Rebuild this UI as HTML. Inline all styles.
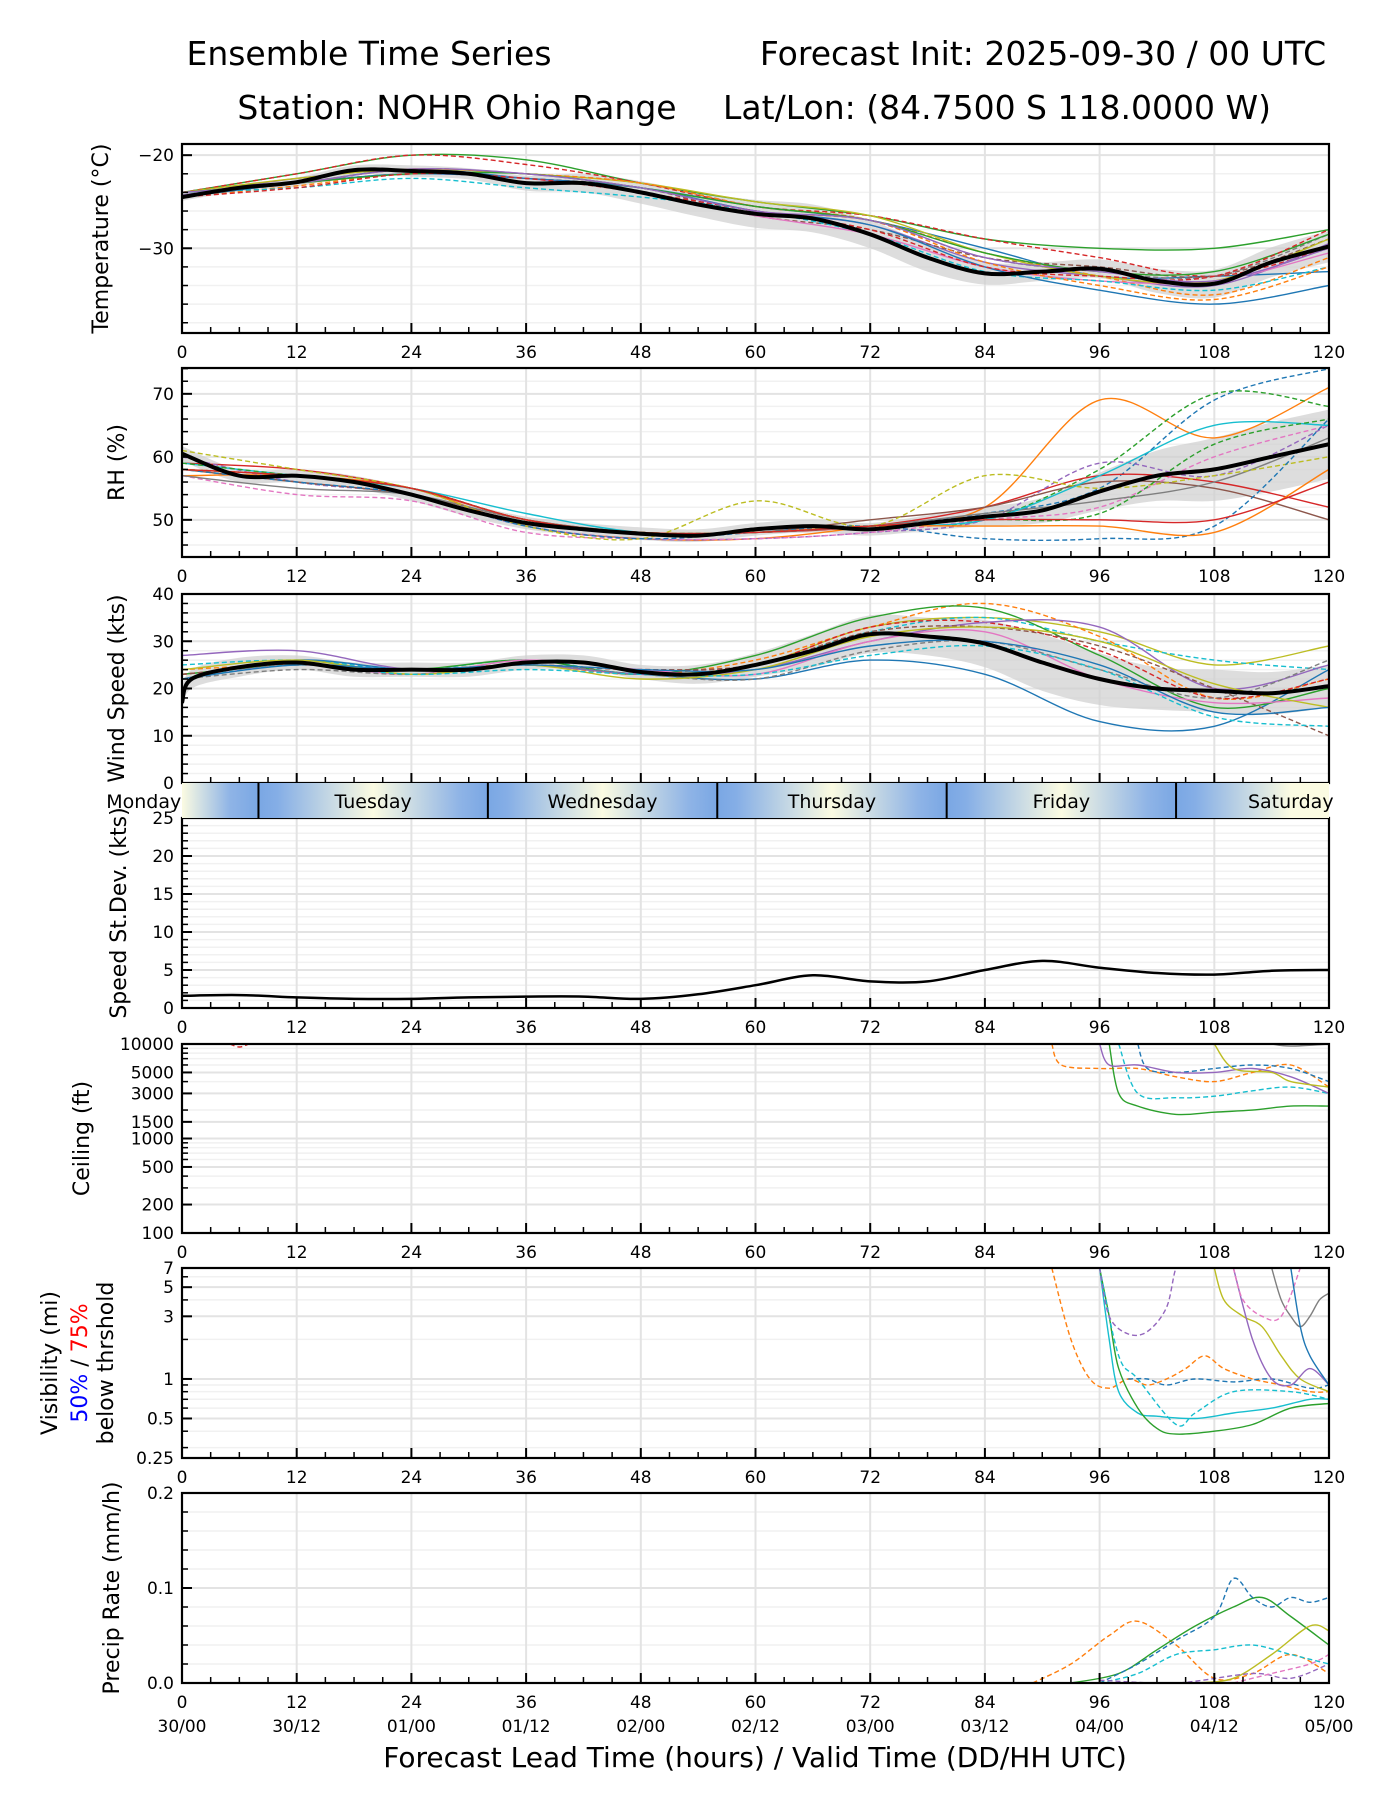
<!DOCTYPE html>
<html><head><meta charset="utf-8">
<style>
body{margin:0;background:#fff;}
svg{display:block;font-family:"DejaVu Sans","Liberation Sans",sans-serif;}
</style></head>
<body>
<svg id="chart" width="1400" height="1800" viewBox="0 0 1400 1800" xmlns="http://www.w3.org/2000/svg">
<rect width="1400" height="1800" fill="#fff"/>
<defs>
<linearGradient id="dayGrad" gradientUnits="userSpaceOnUse" x1="182" x2="1329" y1="0" y2="0"></linearGradient>
</defs>
<text x="369" y="65" font-size="33" text-anchor="middle">Ensemble Time Series</text>
<text x="1043" y="65" font-size="33" text-anchor="middle">Forecast Init: 2025-09-30 / 00 UTC</text>
<text x="457" y="119" font-size="33" text-anchor="middle">Station: NOHR Ohio Range</text>
<text x="997" y="119" font-size="33" text-anchor="middle">Lat/Lon: (84.7500 S 118.0000 W)</text>
<text x="755" y="1767" font-size="28" text-anchor="middle">Forecast Lead Time (hours) / Valid Time (DD/HH UTC)</text>
<g id="layer"></g>
</svg>
<script>
// ---------------- DATA ----------------
const hoursMean = [0,6,12,18,24,30,36,42,48,54,60,66,72,78,84,90,96,102,108,114,120];
const hours12 = [0,12,24,36,48,60,72,84,96,108,120];
const tempMean = [-24.5,-23.5,-22.9,-21.6,-21.7,-22.0,-23.0,-23.0,-24.0,-25.3,-26.3,-26.8,-28.5,-31.0,-32.7,-32.5,-32.2,-33.5,-33.8,-31.5,-29.8];
const tempSpread = [0.4,0.4,0.5,0.5,0.6,0.6,0.8,1.0,1.2,1.3,1.5,1.5,1.5,1.5,1.2,1.0,1.0,1.3,1.5,1.6,1.7];
const tempMembers = [
 [-24,-23,-21.5,-22.5,-23.5,-25.5,-27,-30,-33,-33,-32.5],
 [-24.5,-23.3,-22,-22.5,-23.5,-26,-27,-30.5,-33,-35,-31],
 [-24,-22,-20,-20.5,-23,-25,-26.5,-29,-30,-30,-28],
 [-24,-22,-20,-21,-23,-25.5,-26.5,-29,-31,-33,-30],
 [-24.3,-22.5,-21.5,-22,-23.5,-26,-27.5,-31.5,-33,-34,-29.5],
 [-24.5,-23,-22,-22.5,-23.5,-26.5,-28,-31,-32,-33,-29],
 [-24,-23,-22,-22.5,-24,-26.5,-28.5,-32,-33.5,-33.5,-30.5],
 [-24.5,-23,-21.5,-22,-23,-25.5,-27,-31,-32.5,-33,-28.5],
 [-24,-22.5,-21.5,-22,-23,-25,-26.5,-30.5,-33,-33.5,-29],
 [-24,-23.5,-22.5,-23.5,-24.5,-26,-28.5,-32.5,-33.5,-34.5,-32],
 [-24.5,-23,-22,-22.5,-23.5,-26,-27.5,-32,-34.5,-36,-34],
 [-24,-23,-21.5,-22,-23,-25.5,-27,-31.5,-34,-35.5,-32],
 [-24,-23,-22,-22,-23.5,-25.5,-27,-30.5,-32.5,-32.5,-28.5],
 [-24.5,-23.5,-22,-22.5,-24,-26,-28,-32,-33,-33,-28],
 [-24,-23,-21.5,-22,-23.5,-26,-27,-31,-32.5,-33.5,-30]
];
const rhMean = [60.5,57,57,56,54,51.5,49.5,48.5,47.8,47.5,48.5,49,48.5,49.5,50.5,51.5,54.5,57,58,60,62];
const rhSpread = [1.2,1,1,1,1,1,1,1,1,1,1,1,1,1.2,1.5,2,3,4,5,5.5,5.5];
const rhMembers = [
 [58,57,55,50,48,48,49,51,55,69,74],
 [57,57,55,49,47,47,49,52,69,63,71],
 [58,57,55,50,48,48,49,50,58,70,68],
 [59,58,55,50,48,48,49,52,57,56,52],
 [60,56,54,49,47,47,48,50,59,57,65],
 [58,56,54,50,48,48,50,52,56,55,50],
 [57,54,53,48,47,47,48,50,52,60,65],
 [57,55,54,50,48,48,49,51,53,56,63],
 [61,58,55,49,47,53,49,57,55,57,60],
 [59,57,55,51,48,48,49,50,57,65,65],
 [58,56,54,49,47,48,49,47,47,49,66],
 [58,57,55,50,48,48,49,49,49,48,58],
 [59,57,55,50,48,48,49,50,51,62,66],
 [58,57,55,50,48,48,49,50,50,50,56]
];
const windHours = [0,1,6,12,18,24,30,36,42,48,54,60,66,72,78,84,90,96,102,108,114,120];
const windMean = [17,22,24.5,25.5,24,24,24,25.5,25.5,23.5,23,25,28,31.5,31,29.5,25.5,22,20,19.5,19,20.5];
const windSpread = [2,2,2,1.5,1.5,1.5,1.5,1.5,1.5,1.5,2,2.5,3.5,4,4,5,6,5.5,4.5,4.5,4.5,4.5];
const windMembers = [
 [22,26,23,25,23,25,33,35,32,25,29],
 [25,26,24,26,23,25,32,35,30,26,24],
 [22,26,24,25,23,22,26,23,13,12,24],
 [24,25,24,25,23,26,33,38,31,18,22],
 [23,25,24,26,23,27,35,37,27,16,20],
 [23,25,24,25,24,25,33,34,28,18,22],
 [27,28,24,25,23,24,30,34,33,20,25],
 [23,25,24,25,24,25,32,33,29,20,10],
 [22,25,23,26,24,23,30,32,22,17,18],
 [22,24,23,25,23,22,28,30,24,18,26],
 [24,26,23,25,22,24,31,33,30,21,16],
 [22,25,23,24,23,23,27,29,24,14,12],
 [22,25,24,25,24,24,29,30,25,15,16]
];
const stdevVals = [1.6,1.7,1.4,1.2,1.2,1.4,1.5,1.5,1.2,1.8,3.0,4.3,3.5,3.5,5.0,6.2,5.3,4.6,4.4,4.9,5.0];
const ceilSeries = [
 {h:[91,92,96,100,104,108,112,116,120], v:[10000,6000,5500,5500,4500,4000,5000,6000,3500]},
 {h:[97,98,100,104,108,112,116,120], v:[10000,3000,2200,1800,1900,2000,2200,2200]},
 {h:[98,100,104,108,112,116,120], v:[10000,3000,2700,2800,3200,3500,3000]},
 {h:[100,101,104,108,112,116,120], v:[10000,5500,5000,5500,6000,5500,4000]},
 {h:[96,97,100,104,108,112,116,120], v:[10000,6000,6000,5000,5000,5500,4500,3000]},
 {h:[108,110,114,116,120], v:[10000,5500,5000,4000,3500]},
 {h:[114,116,120], v:[10000,9500,10000]},
 {h:[5,6,7], v:[10000,9300,10000]}
];
const visSeries = [
 {h:[91,93,95,97,99,101,103,105,107,109,112,115,118,120], v:[7,2,1,0.85,1.0,0.9,1.0,1.2,1.5,1.2,1.0,0.9,0.8,0.8]},
 {h:[96,97,98,100,102,106,110,114,118,120], v:[7,2,0.8,0.55,0.52,0.5,0.55,0.6,0.7,0.7]},
 {h:[96,97,98,100,102,104,108,112,116,120], v:[7,3,1.2,0.6,0.42,0.38,0.40,0.45,0.6,0.65]},
 {h:[96,98,100,104,106,110,116,120], v:[7,1.5,1.0,0.45,0.55,0.8,0.8,0.7]},
 {h:[99,101,103,106,110,114,118,120], v:[1.0,1.0,0.9,1.0,0.95,1.0,0.85,0.9]},
 {h:[96,97,99,101,103,104,105], v:[7,3,2.2,2.3,3.5,7,7]},
 {h:[108,109,111,113,115,117,120], v:[7,4,3,2.5,1.5,1.0,0.8]},
 {h:[110,112,114,116,118,120], v:[7,2,1,0.9,1.2,0.9]},
 {h:[114,115,116,117,118,119,120], v:[7,4,3,2.5,3,4,4.5]},
 {h:[110,111,113,115,117], v:[7,4,3,3,7]},
 {h:[116,117,118,120], v:[7,2.5,1.5,0.9]}
];
const precipSeries = [
 {h:[89,93,97,100,104,108,112,116,120], v:[0,0.02,0.05,0.065,0.04,0.005,0.01,0.03,0.01]},
 {h:[93,98,102,106,110,113,116,120], v:[0,0.01,0.035,0.06,0.08,0.09,0.07,0.04]},
 {h:[96,100,104,108,110,112,114,116,118,120], v:[0,0.02,0.045,0.07,0.11,0.09,0.08,0.09,0.085,0.09]},
 {h:[96,100,104,108,112,116,120], v:[0,0.01,0.03,0.035,0.04,0.03,0.02]},
 {h:[106,110,114,118,120], v:[0,0.005,0.03,0.06,0.055]},
 {h:[96,104,112,116,120], v:[0.003,0,0.01,0.005,0.02]},
 {h:[110,114,118,120], v:[0,0.01,0.02,0.03]}
];
const xTicks = [0,12,24,36,48,60,72,84,96,108,120];
const dateLabels = ["30/00","30/12","01/00","01/12","02/00","02/12","03/00","03/12","04/00","04/12","05/00"];
const dayNames = ["Monday","Tuesday","Wednesday","Thursday","Friday","Saturday"];
const dayBoundaries = [8,32,56,80,104];
// --------------------------------------
const NS="http://www.w3.org/2000/svg";
const layer=document.getElementById('layer');
const X0=182,X1=1329;
const xs=h=>X0+(X1-X0)*h/120;
const colors=["#1f77b4","#ff7f0e","#2ca02c","#d62728","#9467bd","#8c564b","#e377c2","#7f7f7f","#bcbd22","#17becf"];
function mk(tag,attrs,parent){const e=document.createElementNS(NS,tag);for(const k in attrs)e.setAttribute(k,attrs[k]);(parent||layer).appendChild(e);return e;}
function smoothPath(pts){
  if(pts.length<2)return "";
  let d=`M${pts[0][0].toFixed(1)},${pts[0][1].toFixed(1)}`;
  for(let i=0;i<pts.length-1;i++){
    const p0=pts[i-1]||pts[i],p1=pts[i],p2=pts[i+1],p3=pts[i+2]||p2;
    const c1=[p1[0]+(p2[0]-p0[0])/6,p1[1]+(p2[1]-p0[1])/6];
    const c2=[p2[0]-(p3[0]-p1[0])/6,p2[1]-(p3[1]-p1[1])/6];
    d+=`C${c1[0].toFixed(1)},${c1[1].toFixed(1)} ${c2[0].toFixed(1)},${c2[1].toFixed(1)} ${p2[0].toFixed(1)},${p2[1].toFixed(1)}`;
  }
  return d;
}
let clipId=0;
function panel(name,top,bot,yf,yMajor,yMinor,yLabels,title,titleX,showX){
  const P={top,bot,yf,name};
  const g=mk('g',{});
  
  
  P.g=g;
  yMinor.forEach(v=>{const y=yf(v);mk('line',{x1:X0,x2:X1,y1:y,y2:y,stroke:'#f1f1f1','stroke-width':1.5},g);});
  yMajor.forEach(v=>{const y=yf(v);mk('line',{x1:X0,x2:X1,y1:y,y2:y,stroke:'#e3e3e3','stroke-width':2},g);});
  xTicks.forEach(h=>{if(h>0&&h<120)mk('line',{x1:xs(h),x2:xs(h),y1:top,y2:bot,stroke:'#e3e3e3','stroke-width':2},g);});
  const cid='c'+(clipId++);
  const cp=mk('clipPath',{id:cid},g);mk('rect',{x:X0,y:top,width:X1-X0,height:bot-top},cp);
  P.data=mk('g',{'clip-path':`url(#${cid})`},g);
  
  
  P.finish=function(){
    const fg=mk('g',{},g);
    mk('rect',{x:X0,y:top,width:X1-X0,height:bot-top,fill:'none',stroke:'#000','stroke-width':2.2},fg);
    for(let h=0;h<=120;h+=3){const maj=h%12===0;mk('line',{x1:xs(h),x2:xs(h),y1:bot,y2:bot-(maj?10:6),stroke:'#000','stroke-width':maj?2:1.5},fg);}
    yMajor.forEach(v=>{const y=yf(v);mk('line',{x1:X0,x2:X0+10,y1:y,y2:y,stroke:'#000','stroke-width':2},fg);});
    yMinor.forEach(v=>{const y=yf(v);mk('line',{x1:X0,x2:X0+6,y1:y,y2:y,stroke:'#000','stroke-width':1.5},fg);});
    yLabels.forEach(([v,t])=>{const tx=mk('text',{x:X0-8,y:yf(v)+6,'font-size':17,'text-anchor':'end'},fg);tx.textContent=t;
      
      });
    if(showX)xTicks.forEach(h=>{const tx=mk('text',{x:xs(h),y:bot+25,'font-size':17,'text-anchor':'middle'},fg);tx.textContent=h;
      
      });
    if(title){const cy=(top+bot)/2;const tt=mk('text',{x:titleX,y:cy,'font-size':22,'text-anchor':'middle',transform:`rotate(-90 ${titleX} ${cy})`},fg);tt.textContent=title;
      
      }
  };
  return P;
}
function drawLine(P,h,v,color,dash,w,nm){
  const pts=h.map((hh,i)=>[xs(hh),P.yf(v[i])]);
  const p=mk('path',{d:smoothPath(pts),fill:'none',stroke:color,'stroke-width':w,'stroke-dasharray':dash?'5,3':'none','stroke-linejoin':'round'},P.data);
  
  
}
function drawBand(P,h,mean,spr){
  const up=h.map((hh,i)=>[xs(hh),P.yf(mean[i]+spr[i])]);
  const lo=h.map((hh,i)=>[xs(hh),P.yf(mean[i]-spr[i])]).reverse();
  const sl=smoothPath(lo);
  const d=smoothPath(up)+'L'+lo[0][0]+','+lo[0][1]+sl.slice(sl.indexOf('C'))+'Z';
  const p=mk('path',{d,fill:'#cfcfcf','fill-opacity':0.7,stroke:'none'},P.data);
  
  
}
const range=(a,b,s)=>{const r=[];for(let v=a;v<=b+1e-9;v+=s)r.push(+v.toFixed(4));return r;};
function lin(v0,v1,top,bot){return v=>bot-(v-v0)/(v1-v0)*(bot-top);}
function lg(v0,v1,top,bot){return v=>bot-(Math.log10(v)-Math.log10(v0))/(Math.log10(v1)-Math.log10(v0))*(bot-top);}

let P=panel('temperature',144,333,lin(-39.1,-18.8,144,333),[-20,-30],range(-38,-20,2).filter(v=>v!==-20&&v!==-30),[[-20,'\u221220'],[-30,'\u221230']],'Temperature (°C)',108,true);
drawBand(P,hoursMean,tempMean,tempSpread);
tempMembers.forEach((m,i)=>drawLine(P,hours12,m,colors[i%10],i%2===1,1.4,'temp-member-line'));
drawLine(P,hoursMean,tempMean,'#000',false,4,'temp-mean-line');
P.finish();
P=panel('rh',368,557,lin(44.1,74.1,368,557),[50,60,70],range(46,74,2).filter(v=>v%10!==0),[[50,'50'],[60,'60'],[70,'70']],'RH (%)',124,true);
drawBand(P,hoursMean,rhMean,rhSpread);
rhMembers.forEach((m,i)=>drawLine(P,hours12,m,colors[i%10],i%2===0,1.4,'rh-member-line'));
drawLine(P,hoursMean,rhMean,'#000',false,4,'rh-mean-line');
P.finish();
P=panel('wind',594,783,lin(0,40,594,783),[0,10,20,30,40],range(2,38,2).filter(v=>v%10!==0),[[0,'0'],[10,'10'],[20,'20'],[30,'30'],[40,'40']],'Wind Speed (kts)',124,false);
drawBand(P,windHours,windMean,windSpread);
windMembers.forEach((m,i)=>drawLine(P,hours12,m,colors[(i+8)%10],i%2===1,1.4,'wind-member-line'));
drawLine(P,windHours,windMean,'#000',false,4,'wind-mean-line');
P.finish();
P=panel('stdev',818,1008,lin(0,25,818,1008),[0,5,10,15,20,25],range(1,24,1).filter(v=>v%5!==0),[[0,'0'],[5,'5'],[10,'10'],[15,'15'],[20,'20'],[25,'25']],'Speed St.Dev. (kts)',126,true);
drawLine(P,hoursMean,stdevVals,'#000',false,2.5,'stdev-line');
P.finish();
const cMajor=[100,200,500,1000,1500,3000,5000,10000];
const cMinor=[300,400,600,700,800,900,2000,4000,6000,7000,8000,9000];
P=panel('ceiling',1044,1233,lg(100,10000,1044,1233),cMajor,cMinor,cMajor.map(v=>[v,String(v)]),'Ceiling (ft)',89,true);
ceilSeries.forEach((s,i)=>drawLine(P,s.h,s.v,colors[[1,2,9,0,4,8,7,3][i]],[1,0,1,1,0,0,0,1][i]===1,1.4,'ceiling-member-line'));
P.finish();
const vMajor=[0.25,0.5,1,3,5,7];
const vMinor=[0.3,0.4,0.6,0.7,0.8,0.9,2,4,6];
P=panel('visibility',1268,1458,lg(0.25,7,1268,1458),vMajor,vMinor,vMajor.map(v=>[v,String(v)]),null,0,true);
visSeries.forEach((s,i)=>drawLine(P,s.h,s.v,colors[[1,9,2,9,0,4,8,4,7,6,0][i]],[1,0,0,1,1,1,0,0,0,1,0][i]===1,1.4,'visibility-member-line'));
P.finish();
P=panel('precip',1493,1683,lin(0,0.2,1493,1683),[0,0.1,0.2],range(0.02,0.18,0.02).filter(v=>Math.abs(v-0.1)>1e-6),[[0,'0.0'],[0.1,'0.1'],[0.2,'0.2']],'Precip Rate (mm/h)',119,true);
precipSeries.forEach((s,i)=>drawLine(P,s.h,s.v,colors[[1,2,0,9,8,4,6][i]],[1,0,1,1,0,1,1][i]===1,1.4,'precip-member-line'));
P.finish();
dateLabels.forEach((t,i)=>{const tx=mk('text',{x:xs(xTicks[i]),y:1732,'font-size':17,'text-anchor':'middle'});tx.textContent=t;
  
  });

(function(){
  const cy=1363;
  const t1=mk('text',{x:57,y:cy,'font-size':22,'text-anchor':'middle',transform:`rotate(-90 57 ${cy})`});t1.textContent='Visibility (mi)';
  
  
  const t2=mk('text',{x:87,y:cy,'font-size':22,'text-anchor':'middle',transform:`rotate(-90 87 ${cy})`});
  
  
  const a=mk('tspan',{fill:'#0000ff'},t2);a.textContent='50%';
  const b=mk('tspan',{fill:'#000'},t2);b.textContent=' / ';
  const c=mk('tspan',{fill:'#ff0000'},t2);c.textContent='75%';
  const t3=mk('text',{x:113,y:cy,'font-size':22,'text-anchor':'middle',transform:`rotate(-90 113 ${cy})`});t3.textContent='below thrshold';
  
  
})();

(function(){
  const grad=document.getElementById('dayGrad');
  const stops=[];
  const cream='#fbfbe2',blue='#7aa7e4';
  stops.push([-4,cream]);
  dayBoundaries.forEach(b=>{stops.push([b-3,'#8fb4e6']);stops.push([b,blue]);stops.push([b+2,'#85aee6']);stops.push([b+12,cream]);});
  stops.forEach(([h,c])=>{const off=Math.max(0,Math.min(1,h/120));mk('stop',{offset:off,'stop-color':c},grad);});
  const g=mk('g',{});
  
  
  mk('rect',{x:X0,y:783,width:X1-X0,height:35,fill:'url(#dayGrad)'},g);
  dayBoundaries.forEach(b=>mk('line',{x1:xs(b),x2:xs(b),y1:783,y2:818,stroke:'#000','stroke-width':2},g));
  dayNames.forEach((n,i)=>{const c=(i===0)?-4:dayBoundaries[i-1]+12;const t=mk('text',{x:xs(c),y:808,'font-size':19,'text-anchor':'middle'},g);t.textContent=n;
    
    });
})();
</script>
</body></html>
